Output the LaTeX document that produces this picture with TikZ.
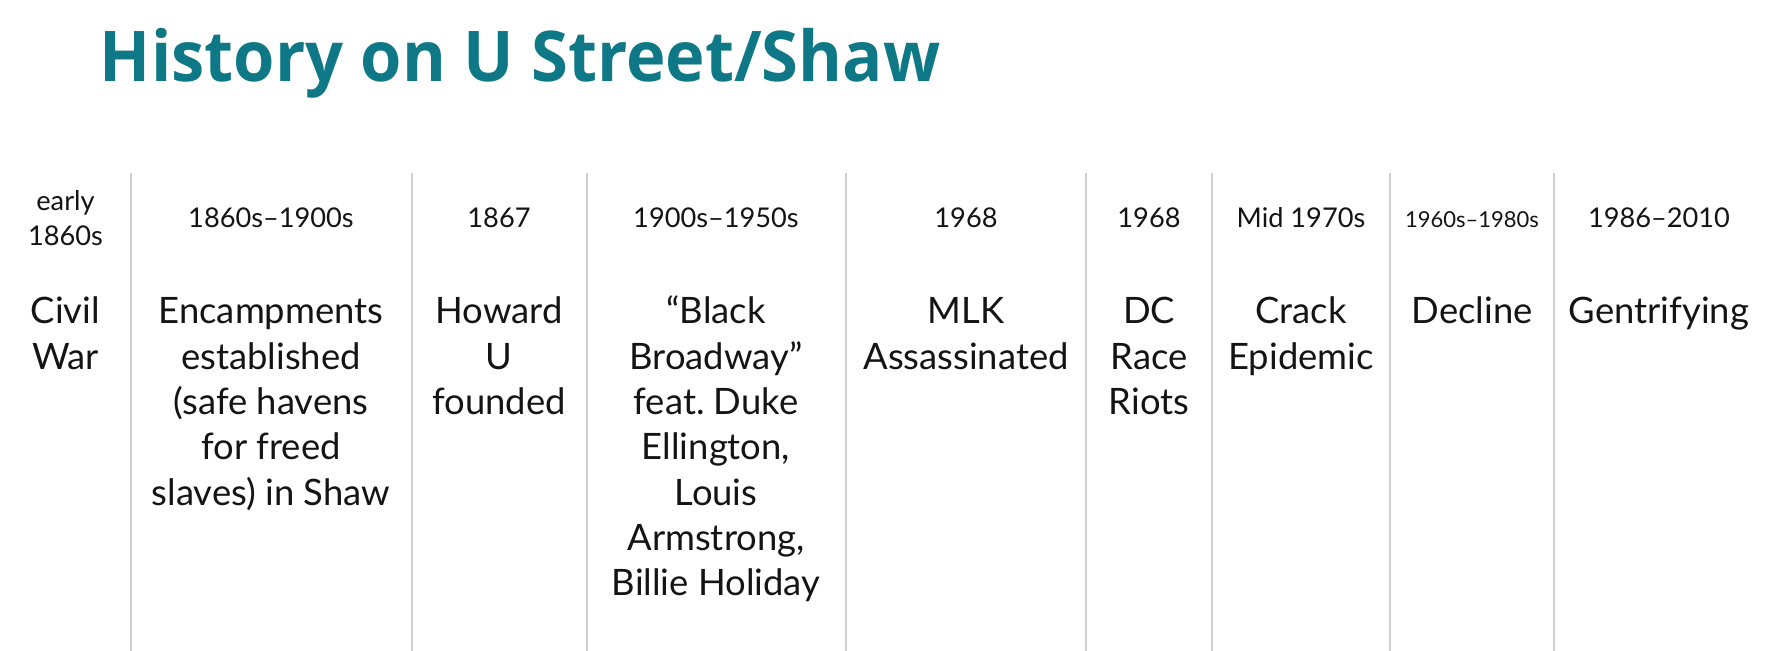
\documentclass[tikz,border=0pt]{standalone}
\usepackage{fontspec}
\setmainfont{Lato}
\newfontfamily\titlefont{Open Sans}[FakeStretch=0.955]
\definecolor{titleteal}{HTML}{0F7886}
\definecolor{linegray}{RGB}{208,208,208}
\definecolor{textblack}{RGB}{20,20,20}
\newcommand{\cell}[1]{\begin{tabular}[t]{@{}c@{}}#1\end{tabular}}
\frenchspacing
\begin{document}
\begin{tikzpicture}[x=0.5pt,y=-0.5pt,
  sepline/.style={draw=linegray, line width=1pt},
  datelbl/.style={anchor=base, inner sep=0pt, text=textblack, font=\fontsize{13.6}{17.35}\selectfont},
  smalldate/.style={anchor=base, inner sep=0pt, text=textblack, font=\fontsize{11}{14}\selectfont},
  bodylbl/.style={anchor=base, inner sep=0pt, text=textblack, font=\fontsize{18.2}{22.65}\selectfont},
  titlelbl/.style={anchor=base west, inner sep=0pt, text=titleteal, font=\titlefont\bfseries\fontsize{35}{40}\selectfont}]
\useasboundingbox (0,0) rectangle (1778,651);
\node[titlelbl] (title) at (99.5,81.7) {History on U Street/Shaw};
% separators
\foreach \i/\x in {1/131,2/411.5,3/586.5,4/846,5/1086,6/1211.5,7/1390,8/1554}{
  \coordinate (s\i t) at (\x,173);
  \coordinate (s\i b) at (\x,651);
  \draw[sepline] (s\i t) -- (s\i b);
}
% dates
\node[datelbl] (d1) at (65.5,211) {\cell{early\\1860s}};
\node[datelbl] (d2) at (271,227.7) {\cell{1860s–1900s}};
\node[datelbl] (d3) at (499,227.7) {\cell{1867}};
\node[datelbl] (d4) at (716,227.7) {\cell{1900s–1950s}};
\node[datelbl] (d5) at (966,227.7) {\cell{1968}};
\node[datelbl] (d6) at (1149,227.7) {\cell{1968}};
\node[datelbl] (d7) at (1301,227.7) {\cell{Mid 1970s}};
\node[smalldate] (d8) at (1472,227.7) {\cell{1960s–1980s}};
\node[datelbl] (d9) at (1659,227.7) {\cell{1986–2010}};
% events
\node[bodylbl] (e1) at (65.5,324) {\cell{Civil\\War}};
\node[bodylbl] (e2) at (271,324) {\cell{Encampments\\established\\(safe havens\\for freed\\slaves) in Shaw}};
\node[bodylbl] (e3) at (499,324) {\cell{Howard\\U\\founded}};
\node[bodylbl] (e4) at (716,324) {\cell{“Black\\Broadway”\\feat. Duke\\Ellington,\\Louis\\Armstrong,\\Billie Holiday}};
\node[bodylbl] (e5) at (966,324) {\cell{MLK\\Assassinated}};
\node[bodylbl] (e6) at (1149,324) {\cell{DC\\Race\\Riots}};
\node[bodylbl] (e7) at (1301,324) {\cell{Crack\\Epidemic}};
\node[bodylbl] (e8) at (1472,324) {\cell{Decline}};
\node[bodylbl] (e9) at (1659,324) {\cell{Gentrifying}};
\end{tikzpicture}
\end{document}
